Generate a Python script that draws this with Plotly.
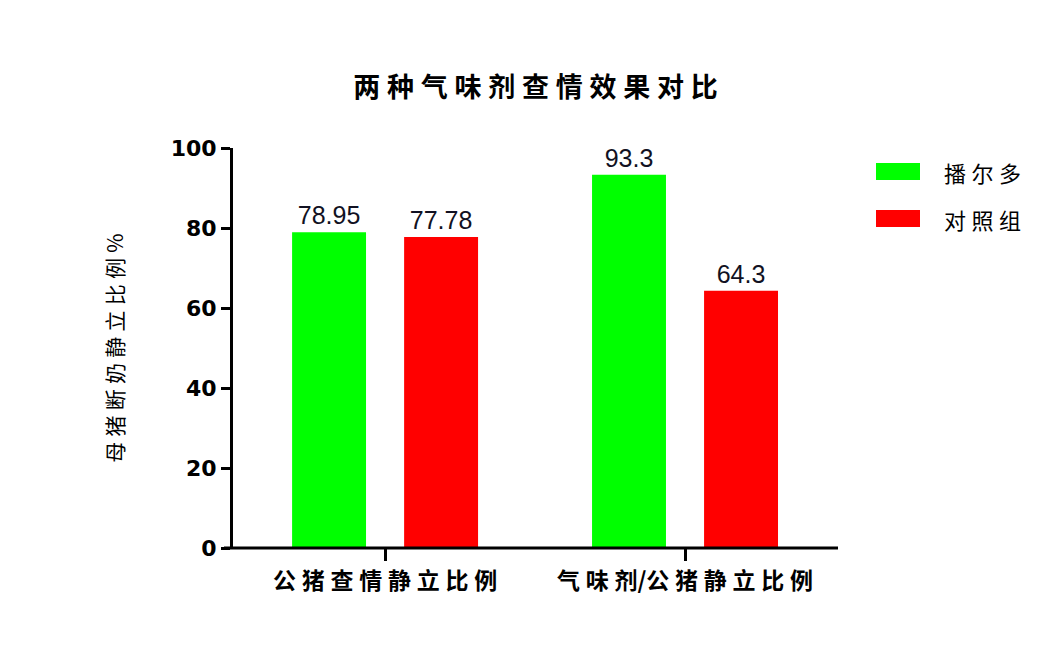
import plotly.graph_objects as go

categories = ["公猪查情静立比例", "气味剂/公猪静立比例"]
series_names = ["播尔多", "对照组"]
bordo_values = [78.95, 93.3]
control_values = [77.78, 64.3]
bar_colors = ["#00FF00", "#FF0000"]
y_ticks = [0, 20, 40, 60, 80, 100]

cjk = "Noto Sans CJK SC"
latin = "Liberation Sans, Arial"
digits = "DejaVu Sans"
SP = "\u2005"  # quarter-em space to mimic the wide character pitch


def spaced(s):
    # no extra gap around the slash
    return SP.join(s).replace(SP + "/" + SP, "/")


fig = go.Figure()
for name, vals, col in zip(series_names, [bordo_values, control_values], bar_colors):
    fig.add_trace(go.Bar(
        x=categories, y=vals, name=name,
        marker=dict(color=col, line=dict(width=0)),
        text=[f"{v:g}" for v in vals],
        textposition="outside",
        textfont=dict(family=latin, size=25, color="#111122"),
        cliponaxis=False,
        showlegend=False,
    ))

# plot area in pixels (page body adds 8px offset)
PL, PR, PT, PB = 233, 838, 148, 548
W, H = PR - PL, PB - PT

# legend drawn by hand to get the wide swatches
swatch_tops = [163, 210]
for name, col, top in zip(series_names, bar_colors, swatch_tops):
    fig.add_shape(type="rect", xref="paper", yref="paper",
                  x0=(876 - PL) / W, x1=(920 - PL) / W,
                  y0=(PB - top - 17) / H, y1=(PB - top) / H,
                  fillcolor=col, line=dict(width=0))
    fig.add_annotation(xref="paper", yref="paper",
                       x=(942 - PL) / W, y=(PB - top - 9) / H,
                       text=spaced(name), showarrow=False, xanchor="left", yanchor="middle",
                       font=dict(family=cjk, size=22, color="black"))

# x baseline extends past the y axis, as in the original
fig.add_shape(type="line", xref="paper", yref="paper",
              x0=-9 / W, x1=1, y0=0, y1=0,
              line=dict(color="black", width=3))

fig.update_layout(
    width=1057, height=665,
    paper_bgcolor="white", plot_bgcolor="white",
    margin=dict(l=PL - 8, r=1057 - PR + 8, t=PT - 8, b=665 - PB + 8),
    barmode="group", bargap=0.253, bargroupgap=0.34,
    title=dict(text="<b>" + spaced("两种气味剂查情效果对比") + "</b>",
               x=((PL + PR) / 2 - 8) / 1057,
               xanchor="center", y=1 - (88 - 8) / 665, yanchor="middle",
               font=dict(family=cjk, size=27, color="black")),
)
fig.update_xaxes(
    range=[-0.507, 1.51], showline=False, showgrid=False, zeroline=False,
    ticks="outside", ticklen=12, tickwidth=3, tickcolor="black",
    tickfont=dict(family=cjk, size=23, color="black"),
    tickvals=categories, ticktext=[f"<b>{spaced(c)}</b>" for c in categories],
)
fig.update_yaxes(
    range=[0, 100], tickvals=y_ticks, showgrid=False, zeroline=False,
    showline=True, linecolor="black", linewidth=3,
    ticks="outside", ticklen=9, tickwidth=3, tickcolor="black",
    ticktext=[f"<b>{t}</b>" for t in y_ticks],
    tickfont=dict(family=digits, size=22, color="black"),
    title=dict(text=spaced("母猪断奶静立比例") + SP + "%", standoff=42,
               font=dict(family=cjk, size=21, color="black")),
)

fig.write_html("out.html")
